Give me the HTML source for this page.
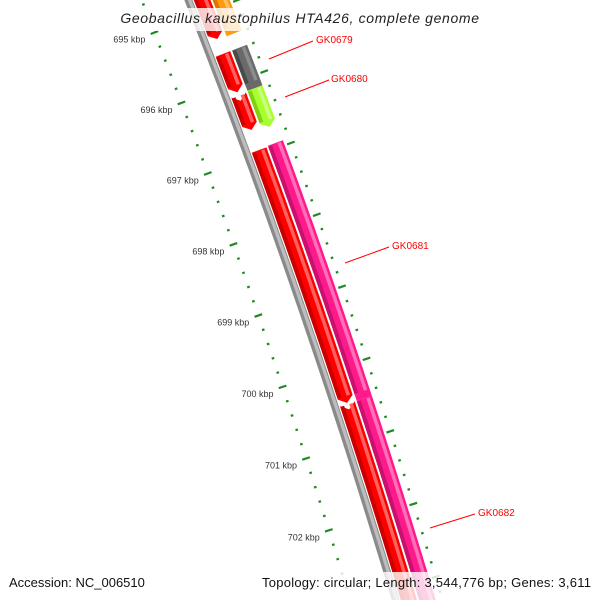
<!DOCTYPE html>
<html><head><meta charset="utf-8"><style>
html,body{margin:0;padding:0;background:#fff;width:600px;height:600px;overflow:hidden;}
svg{display:block;font-family:"Liberation Sans",sans-serif;}
</style></head><body>
<svg id="map" width="600" height="600" viewBox="0 0 600 600" xmlns="http://www.w3.org/2000/svg">
<g id="ticks"></g>
<g id="backbone"></g>
<g id="features"></g>
<g id="labels">
<line x1="269" y1="59" x2="313" y2="41" stroke="#ff0000" stroke-width="1"/>
<text x="316" y="43" font-size="10" fill="#ff0000">GK0679</text>
<line x1="285" y1="97" x2="329" y2="80" stroke="#ff0000" stroke-width="1"/>
<text x="331" y="82" font-size="10" fill="#ff0000">GK0680</text>
<line x1="345" y1="263" x2="389" y2="247" stroke="#ff0000" stroke-width="1"/>
<text x="392" y="249" font-size="10" fill="#ff0000">GK0681</text>
<line x1="430" y1="528" x2="475" y2="514" stroke="#ff0000" stroke-width="1"/>
<text x="478" y="516" font-size="10" fill="#ff0000">GK0682</text>
</g>
<rect x="110" y="8" width="380" height="23" fill="#fff" opacity="0.8"/>
<text x="300" y="23" text-anchor="middle" font-size="14" font-style="italic" letter-spacing="0.65" fill="#222">Geobacillus kaustophilus HTA426, complete genome</text>
<rect x="0" y="572" width="600" height="28" fill="#fff" opacity="0.8"/>
<text x="9" y="587" font-size="13" fill="#111">Accession: NC_006510</text>
<text x="262" y="587" font-size="13" fill="#111" textLength="329" lengthAdjust="spacing">Topology: circular; Length: 3,544,776 bp; Genes: 3,611</text>
</svg>
<script>
const featStart=[694500,695590,696170,696943,700480,694500,695590,696160,696930,700480];
const featEnd=[695380,696130,696660,700470,704000,695390,696160,696705,700480,704000];
const featStrand=[-1,-1,-1,-1,-1,1,1,1,1,1];
const featKind=["red","red","red","red","red","orange","gray","lime","magenta","magenta"];
const tickStart=694400, tickEnd=703400, tickStep=200;

const NS="http://www.w3.org/2000/svg";
const R=7600, P0=[299,300];
const el=Math.hypot(0.945,0.326), E=[0.945/el,-0.326/el];
const C=[P0[0]-R*E[0],P0[1]-R*E[1]], phi0=Math.atan2(E[1],E[0]);
function pt(s,r){const p=phi0+s/R;return [C[0]+(R+r)*Math.cos(p),C[1]+(R+r)*Math.sin(p)];}
function sOf(bp){return -226+(bp-696000)*0.0758;}
const pal={red:["#ff0000","#c80000","#ff6060"],orange:["#ff9a10","#d87800","#ffc060"],gray:["#6a6a6a","#4a4a4a","#8c8c8c"],lime:["#a8ff30","#80d010","#ccff80"],magenta:["#ff1a8c","#c8106e","#ff70b8"],bb:["#8a8a8a","#6a6a6a","#bdbdbd"]};
function band(s1,s2,r1,r2,tip,notch){
  const n=Math.max(4,Math.ceil((s2-s1)/10)),pts=[];
  const a=tip?6:0;
  for(let i=0;i<=n;i++){pts.push(pt(s1+(s2-a-s1)*i/n,r1));}
  if(tip)pts.push(pt(s2,(r1+r2)/2));
  for(let i=n;i>=0;i--){pts.push(pt(s1+(s2-a-s1)*i/n,r2));}
  if(notch)pts.push(pt(s1+6,(r1+r2)/2));
  return pts.map(p=>p[0].toFixed(1)+","+p[1].toFixed(1)).join(" ");
}
function poly(g,pts,fill,name){const p=document.createElementNS(NS,"polygon");p.setAttribute("points",pts);p.setAttribute("fill",fill);


g.appendChild(p);}
const bb=document.getElementById("backbone");
poly(bb,band(-420,420,-3.8,3.8,false,false),pal.bb[0],"backbone-line");
poly(bb,band(-420,420,-0.5,2.8,false,false),pal.bb[2],"backbone-highlight");
const fg=document.getElementById("features");
for(let i=0;i<featStart.length;i++){
  const s1=sOf(featStart[i]),s2=sOf(featEnd[i]);
  const r1=featStrand[i]<0?5:22.5,r2=featStrand[i]<0?20.5:38.5;
  const c=pal[featKind[i]];
  const tip=(featKind[i]==="red"&&i<4)||featKind[i]==="lime";
  const notch=featKind[i]==="red"&&(i===2||i===4);
  poly(fg,band(s1,s2,r1,r2,tip,notch),c[0],"feature-"+featKind[i]+"-"+i);
  poly(fg,band(s1+1,s2-7,r1,r1+4,false,false),c[1],"feature-shade-"+i);
  poly(fg,band(s1+1,s2-7,r2-6,r2-2.5,false,false),c[2],"feature-light-"+i);
}
const tg=document.getElementById("ticks");
for(let bp=tickStart;bp<=tickEnd;bp+=tickStep){
  const s=sOf(bp),major=(bp%1000===0);
  const sides=[-43.5,45];
  for(const r0 of sides){
    const L=major?4:1.3;
    const a=pt(s,r0-L),b=pt(s,r0+L);
    const ln=document.createElementNS(NS,"line");
    ln.setAttribute("x1",a[0]);ln.setAttribute("y1",a[1]);ln.setAttribute("x2",b[0]);ln.setAttribute("y2",b[1]);
    ln.setAttribute("stroke","#1f8a1f");ln.setAttribute("stroke-width","2.2");
    
    
    tg.appendChild(ln);
  }
  if(major){
    const p=pt(s,-43.5);
    const t=document.createElementNS(NS,"text");
    t.setAttribute("x",(p[0]-9).toFixed(1));t.setAttribute("y",(p[1]+10).toFixed(1));
    t.setAttribute("text-anchor","end");t.setAttribute("font-size","9");t.setAttribute("fill","#333");
    t.textContent=(bp/1000)+" kbp";
    
    
    tg.appendChild(t);
  }
}
</script>
</body></html>
